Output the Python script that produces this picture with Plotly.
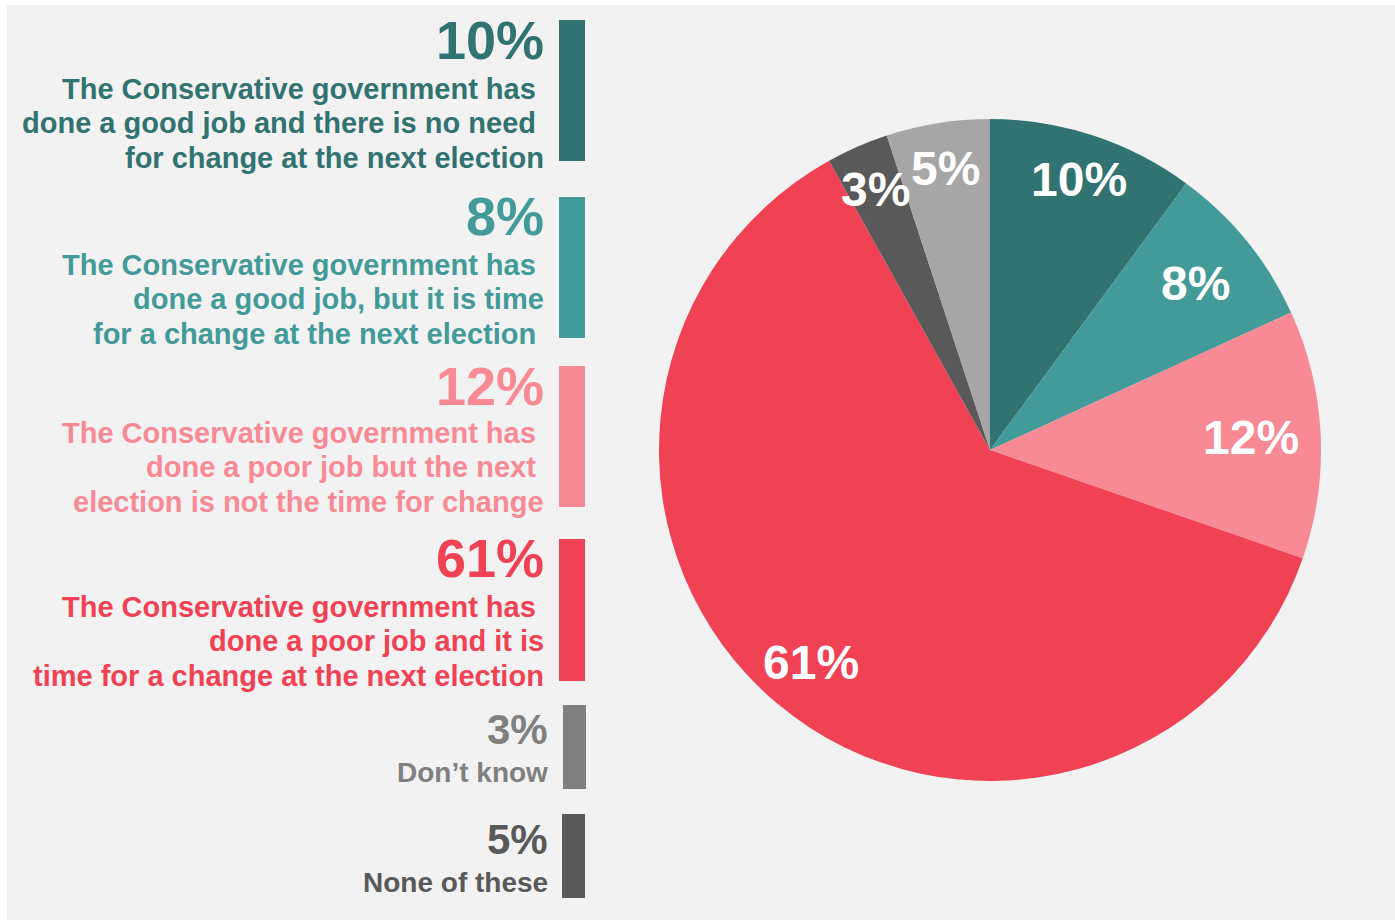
import math
import plotly.graph_objects as go

# ---------------- data ----------------
pie_labels = ["Good job, no need for change", "Good job, time for change",
              "Poor job, not time for change", "Poor job, time for change",
              "None of these", "Don't know"]
pie_values = [10, 8, 12, 61, 3, 5]
pie_text = ["10%", "8%", "12%", "61%", "3%", "5%"]
pie_colors = ["#307370", "#429a99", "#f78a94", "#f04254", "#595959", "#a6a6a6"]

legend_pcts = ["10%", "8%", "12%", "61%", "3%", "5%"]
legend_lines = [
    ["The Conservative government has\u00a0",
     "done a good job and there is no need\u00a0",
     "for change at the next election"],
    ["The Conservative government has\u00a0",
     "done a good job, but it is time",
     "for a change at the next election\u00a0"],
    ["The Conservative government has\u00a0",
     "done a poor job but the next\u00a0",
     "election is not the time for change"],
    ["The Conservative government has\u00a0",
     "done a poor job and it is",
     "time for a change at the next election"],
    ["Don\u2019t know"],
    ["None of these"],
]
legend_colors = ["#307370", "#429a99", "#f78a94", "#f04254", "#808080", "#595959"]

# label placement (fraction of radius from centre)
label_radius = [0.86, 0.80, 0.79, 0.84, 0.86, 0.86]

# ---------------- layout geometry ----------------
W, H = 1395, 921
FONT = "Liberation Sans, Arial, sans-serif"

def px(x):
    return x / W

def py(y):
    return 1 - y / H

cx, cy, R = 990, 450, 331

fig = go.Figure()
fig.add_trace(go.Pie(
    labels=pie_labels, values=pie_values, sort=False, direction="clockwise",
    rotation=0, marker=dict(colors=pie_colors, line=dict(width=0)),
    textinfo="none", hoverinfo="label+percent", showlegend=False,
    domain=dict(x=[px(cx - R), px(cx + R)], y=[py(cy + R), py(cy - R)]),
))

annotations = []
# pie labels at slice mid-angles
total = sum(pie_values)
cum = 0
for i, v in enumerate(pie_values):
    mid = (cum + v / 2) / total * 360
    cum += v
    a = math.radians(mid)
    r = R * label_radius[i]
    lx = cx + r * math.sin(a)
    ly = cy - r * math.cos(a)
    annotations.append(dict(
        x=px(lx), y=py(ly), xref="paper", yref="paper", showarrow=False,
        text="<b>" + pie_text[i] + "</b>", xanchor="center", yanchor="middle",
        font=dict(family=FONT, size=48, color="white")))

# left legend blocks: (pct baseline, first line baseline, bar top, bar bottom, bar x0, bar x1, text right, pct size, line size)
blocks = [
    (59, 99, 20, 161, 559, 585, 546, 54, 29),
    (235, 275, 197, 338, 559, 585, 546, 54, 29),
    (405, 443, 366, 507, 559, 585, 546, 54, 29),
    (577, 617, 539, 681, 559, 585, 546, 54, 29),
    (745, 783, 705, 789, 563, 586, 550, 42, 28),
    (855, 893, 814, 898, 562, 585, 550, 42, 28),
]
LINE_GAP = 34.5
shapes = [dict(type="rect", xref="paper", yref="paper", x0=px(7), x1=1, y0=py(920), y1=py(5),
               fillcolor="#f2f2f2", line=dict(width=0), layer="below")]
for i, (pb, lb, bt, bb, bx0, bx1, tr, ps, ls) in enumerate(blocks):
    col = legend_colors[i]
    shapes.append(dict(type="rect", xref="paper", yref="paper", x0=px(bx0), x1=px(bx1),
                       y0=py(bb), y1=py(bt), fillcolor=col, line=dict(width=0)))
    annotations.append(dict(
        x=px(tr), y=py(pb - 0.36 * ps), xref="paper", yref="paper", showarrow=False,
        text="<b>" + legend_pcts[i] + "</b>", xanchor="right", yanchor="middle",
        font=dict(family=FONT, size=ps, color=col)))
    for j, line in enumerate(legend_lines[i]):
        b = lb + j * LINE_GAP
        annotations.append(dict(
            x=px(tr), y=py(b - 0.36 * ls), xref="paper", yref="paper", showarrow=False,
            text="<b>" + line + "</b>", xanchor="right", yanchor="middle",
            font=dict(family=FONT, size=ls, color=col)))

fig.update_layout(
    width=W, height=H, margin=dict(l=0, r=0, t=0, b=0),
    paper_bgcolor="white", plot_bgcolor="white",
    shapes=shapes, annotations=annotations, showlegend=False,
)
fig.write_html("out.html", config={"displayModeBar": False},
               post_script="document.body.style.margin='0';")
